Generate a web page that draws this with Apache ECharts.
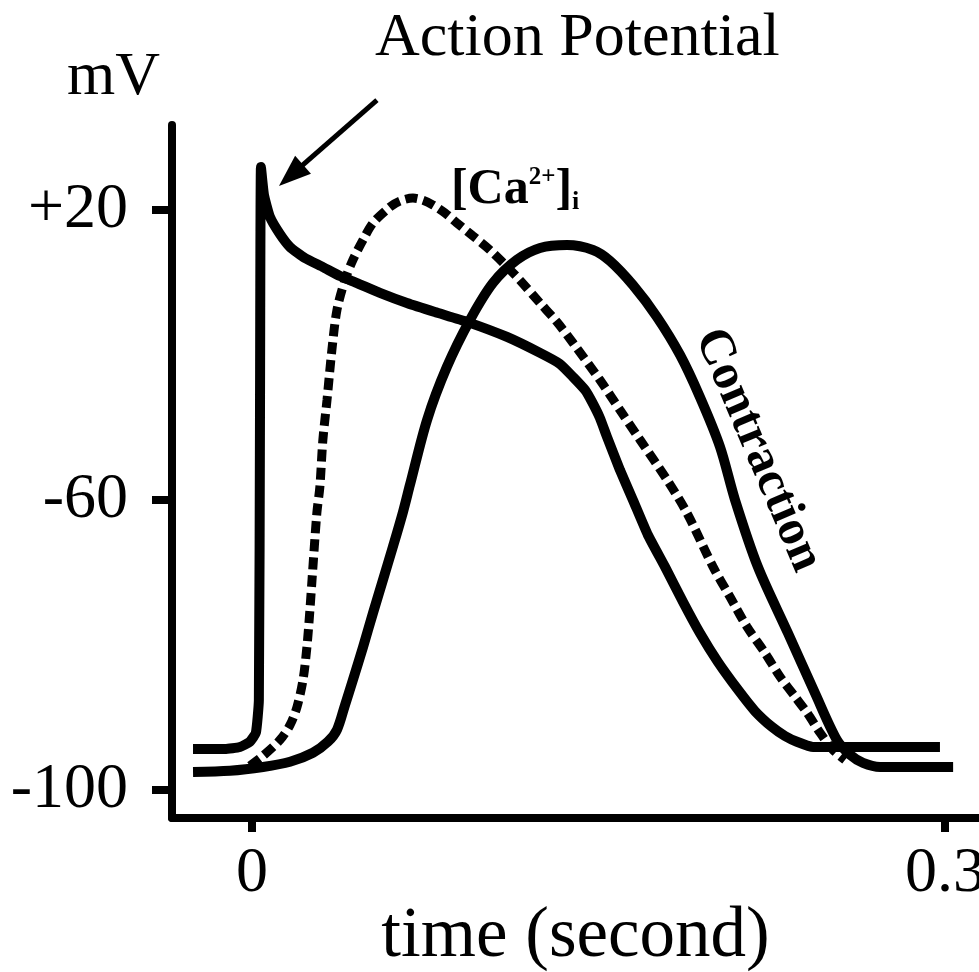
<!DOCTYPE html>
<html>
<head>
<meta charset="utf-8">
<title>Action Potential</title>
<script src="https://cdn.jsdelivr.net/npm/echarts@6.0.0/dist/echarts.min.js"></script>
<style>
html, body { margin: 0; padding: 0; background: #fff; }
#main { width: 979px; height: 972px; }
</style>
</head>
<body>
<div id="main"></div>
<script>
// x: time in seconds. y: a plain vertical level, the figure's mV ticks are evenly spaced
const xTickValues = [0, 0.3]
const xTickLabels = ['0', '0.3']
const yTickValues = [0, 100, 200]
const yTickLabels = ['-100', '-60', '+20']

const apTime = [-0.0255, -0.0117, -0.0052, -0.0009, 0.0017, 0.0030, 0.0035, 0.0039, 0.0052, 0.0078,
  0.0121, 0.0165, 0.0229, 0.0307, 0.0381, 0.0455, 0.0554, 0.0671, 0.0792, 0.0931,
  0.1104, 0.1247, 0.1333, 0.1390, 0.1442, 0.1472, 0.1506, 0.1537, 0.1593, 0.1649,
  0.1714, 0.1788, 0.1866, 0.1939, 0.2017, 0.2104, 0.2177, 0.2251, 0.2307, 0.2359,
  0.2429, 0.2545, 0.2978]
const apLevel = [14.1, 14.1, 14.8, 16.6, 19.7, 31.0, 134.5, 214.8, 205.2, 197.6,
  191.7, 187.2, 183.4, 180.3, 177.2, 174.8, 171.4, 167.9, 164.8, 161.4,
  156.2, 150.7, 146.9, 142.4, 137.9, 133.8, 128.3, 121.7, 110.3, 100.0,
  87.9, 76.9, 64.8, 54.1, 44.1, 34.5, 27.2, 21.7, 18.6, 16.6,
  14.8, 14.8, 14.8]

const caTime = [-0.0009, 0.0043, 0.0121, 0.0165, 0.0195, 0.0221, 0.0238, 0.0251, 0.0260, 0.0281,
  0.0294, 0.0307, 0.0325, 0.0346, 0.0368, 0.0403, 0.0437, 0.0481, 0.0524, 0.0597,
  0.0641, 0.0697, 0.0740, 0.0784, 0.0835, 0.0887, 0.0957, 0.1030, 0.1147, 0.1247,
  0.1320, 0.1390, 0.1506, 0.1593, 0.1680, 0.1797, 0.1883, 0.1996, 0.2069, 0.2143,
  0.2221, 0.2286, 0.2351, 0.2403, 0.2459, 0.2515, 0.2567]
const caLevel = [8.3, 11.4, 17.2, 22.4, 28.6, 37.9, 49.3, 62.1, 72.4, 95.5,
  104.5, 120.7, 134.5, 151.7, 165.5, 175.9, 182.8, 189.7, 195.5, 201.0,
  203.1, 204.1, 203.4, 201.7, 199.0, 195.5, 191.0, 186.2, 176.9, 167.9,
  161.4, 154.1, 141.4, 131.0, 120.7, 106.9, 95.5, 76.9, 66.6, 56.2,
  47.2, 39.0, 32.1, 26.6, 19.7, 13.8, 10.3]

const contractionTime = [-0.0255, -0.0095, 0.0048, 0.0165, 0.0264, 0.0329, 0.0368, 0.0403, 0.0437, 0.0481,
  0.0524, 0.0567, 0.0610, 0.0654, 0.0684, 0.0758, 0.0844, 0.0944, 0.1043, 0.1147,
  0.1247, 0.1364, 0.1476, 0.1550, 0.1649, 0.1753, 0.1853, 0.1939, 0.2026, 0.2091,
  0.2190, 0.2320, 0.2437, 0.2532, 0.2589, 0.2645, 0.2719, 0.3035]
const contractionLevel = [6.2, 6.6, 7.9, 9.7, 12.8, 16.6, 20.7, 29.3, 37.9, 49.3,
  61.0, 72.4, 83.8, 95.9, 105.2, 127.6, 145.9, 162.1, 174.8, 182.8,
  186.9, 187.9, 186.2, 182.4, 174.1, 163.1, 150.0, 135.5, 118.3, 100.0,
  76.9, 54.1, 33.4, 17.2, 12.1, 9.3, 7.9, 7.9]

// annotation arrow pointing at the spike (data units)
const arrowFrom = [0.0541, 237.9]
const arrowTo = [0.0117, 208.3]

const serif = 'Liberation Serif'

function zip(xs, ys) {
  return xs.map((x, i) => [x, ys[i]])
}

const chart = echarts.init(document.getElementById('main'))

const option = {
  backgroundColor: '#ffffff',
  animation: false,
  title: {
    text: 'Action Potential',
    left: 370,
    top: 3,
    textStyle: { fontFamily: serif, fontSize: 62, fontWeight: 'normal', color: '#000' }
  },
  grid: { left: 172, right: 0, top: 125, bottom: 154, outerBoundsMode: 'none' },
  xAxis: {
    type: 'value',
    min: -0.0346,
    max: 0.3147,
    name: 'time (second)',
    nameLocation: 'middle',
    nameGap: 84,
    nameMoveOverlap: false,
    nameTextStyle: { fontFamily: serif, fontSize: 71, color: '#000' },
    axisLine: { onZero: false, lineStyle: { color: '#000', width: 8 } },
    axisTick: { customValues: xTickValues, length: 14, lineStyle: { color: '#000', width: 8 } },
    axisLabel: {
      customValues: xTickValues,
      margin: 24,
      fontFamily: serif,
      fontSize: 64,
      color: '#000',
      formatter: v => xTickLabels[xTickValues.indexOf(v)] || ''
    },
    splitLine: { show: false }
  },
  yAxis: {
    type: 'value',
    min: -9.7,
    max: 229.3,
    name: 'mV',
    nameLocation: 'end',
    nameGap: 16,
    nameTextStyle: { fontFamily: serif, fontSize: 62, color: '#000', align: 'right', padding: [0, 12, 0, 0] },
    axisLine: { onZero: false, lineStyle: { color: '#000', width: 8 } },
    axisTick: { customValues: yTickValues, length: 20, lineStyle: { color: '#000', width: 8 } },
    axisLabel: {
      customValues: yTickValues,
      margin: 44,
      fontFamily: serif,
      fontSize: 64,
      color: '#000',
      formatter: v => yTickLabels[yTickValues.indexOf(v)] || ''
    },
    splitLine: { show: false }
  },
  series: [
    {
      name: 'Action Potential',
      type: 'line',
      data: zip(apTime, apLevel),
      showSymbol: false,
      smooth: 0.15,
      clip: false,
      lineStyle: { color: '#000', width: 10, join: 'round' }
    },
    {
      name: '[Ca2+]i',
      type: 'line',
      data: zip(caTime, caLevel),
      showSymbol: false,
      smooth: 0.3,
      clip: false,
      lineStyle: { color: '#000', width: 9, type: [12, 6] },
      markPoint: {
        silent: true,
        symbol: 'circle',
        symbolSize: 1,
        itemStyle: { color: 'transparent' },
        label: {
          show: true,
          position: 'inside',
          formatter: '{b|[Ca}{sup|2+}{b|]}{sub|i}',
          rich: {
            b: { fontFamily: serif, fontWeight: 'bold', fontSize: 50, color: '#000' },
            sup: { fontFamily: serif, fontWeight: 'bold', fontSize: 25, color: '#000', verticalAlign: 'top' },
            sub: { fontFamily: serif, fontWeight: 'bold', fontSize: 26, color: '#000', verticalAlign: 'bottom' }
          }
        },
        data: [{ coord: [0.1139, 206.9] }]
      }
    },
    {
      name: 'Contraction',
      type: 'line',
      data: zip(contractionTime, contractionLevel),
      showSymbol: false,
      smooth: 0.3,
      clip: false,
      lineStyle: { color: '#000', width: 10, join: 'round' },
      markPoint: {
        silent: true,
        symbol: 'circle',
        symbolSize: 1,
        itemStyle: { color: 'transparent' },
        label: {
          show: true,
          position: 'inside',
          rotate: -67,
          formatter: 'Contraction',
          fontFamily: serif,
          fontWeight: 'bold',
          fontSize: 50,
          color: '#000'
        },
        data: [{ coord: [0.2190, 117.2] }]
      }
    }
  ]
}

chart.setOption(option)

// arrow drawn in pixels from the data-unit end points
const tail = chart.convertToPixel({ gridIndex: 0 }, arrowFrom)
const head = chart.convertToPixel({ gridIndex: 0 }, arrowTo)
const dx = head[0] - tail[0]
const dy = head[1] - tail[1]
const len = Math.sqrt(dx * dx + dy * dy)
const ux = dx / len
const uy = dy / len
const headLen = 32
const halfW = 12
const base = [head[0] - ux * headLen, head[1] - uy * headLen]
chart.setOption({
  graphic: [
    {
      type: 'line',
      shape: { x1: tail[0], y1: tail[1], x2: base[0] + ux * 4, y2: base[1] + uy * 4 },
      style: { stroke: '#000', lineWidth: 5 },
      silent: true
    },
    {
      type: 'polygon',
      shape: {
        points: [
          head,
          [base[0] - uy * halfW, base[1] + ux * halfW],
          [base[0] + uy * halfW, base[1] - ux * halfW]
        ]
      },
      style: { fill: '#000' },
      silent: true
    }
  ]
})
</script>
</body>
</html>
